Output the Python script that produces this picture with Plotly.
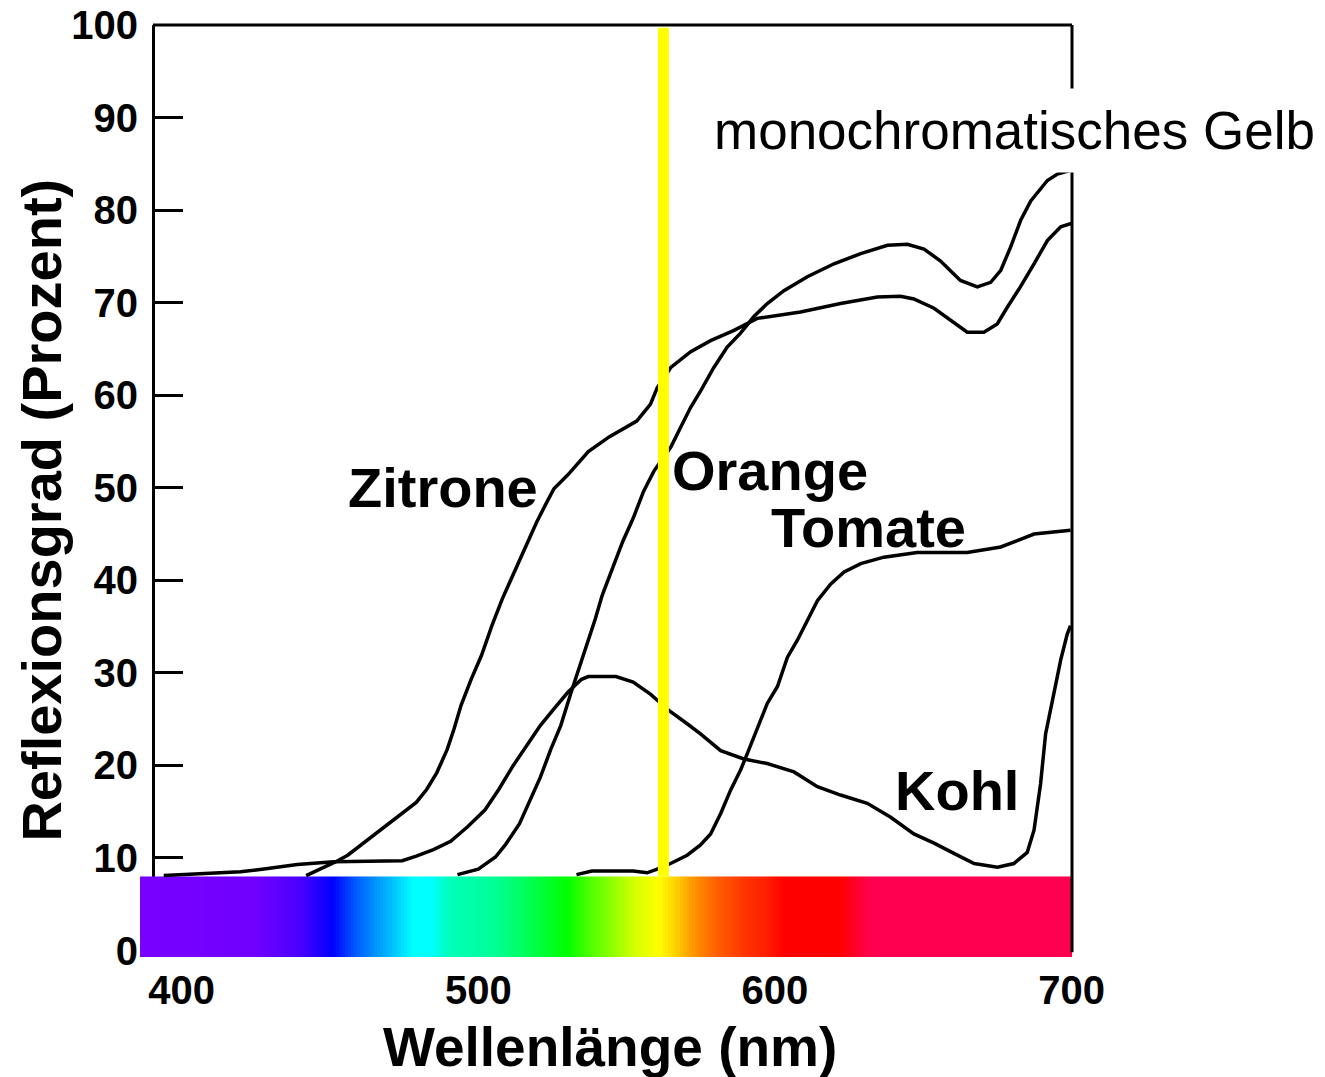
import plotly.graph_objects as go

# ---------------- data ----------------
zitrone_nm = [442, 447, 452, 456, 460.5, 467.5, 474.4, 479.1, 482.6, 486.0, 489.5, 491.8, 494.2, 497.6,
              501.1, 504.6, 508.1, 511.6, 515.1, 519.7, 523.2, 525.5, 530.2, 537.1, 544.1, 553.4, 558.0,
              560.3, 564.9, 571.6, 578.3, 586.2, 594.0, 608.6, 622.1, 634.5, 642.3, 646.8, 653.6, 660.3,
              664.8, 670.4, 674.9, 678.3, 682.7, 687.3, 691.8, 696.3, 700.2]
zitrone_r = [8.1, 8.8, 9.6, 10.3, 11.4, 13.1, 14.9, 16.0, 17.4, 19.2, 21.7, 23.9, 26.5, 29.3,
             31.9, 35.1, 38.0, 40.5, 43.1, 46.3, 48.5, 49.9, 51.4, 53.9, 55.5, 57.2, 59.0,
             60.8, 63.0, 64.7, 65.9, 67.0, 68.3, 69.0, 69.9, 70.6, 70.7, 70.4, 69.4, 67.9,
             66.8, 66.8, 67.7, 69.5, 71.7, 74.2, 76.7, 78.2, 78.6]

orange_nm = [493.0, 500.0, 505.8, 509.3, 513.9, 517.4, 520.9, 524.4, 527.8, 531.3, 533.6, 536.0, 539.4,
             541.8, 545.3, 548.7, 552.2, 555.7, 559.2, 564.9, 568.3, 571.6, 575.0, 579.4, 583.9, 588.4,
             592.9, 597.4, 603.0, 610.9, 619.9, 628.9, 637.9, 644.6, 650.2, 655.8, 662.5, 668.2, 672.7,
             676.1, 679.4, 682.8, 686.2, 691.8, 695.2, 699.6]
orange_r = [8.2, 8.8, 10.1, 11.5, 13.7, 16.2, 18.7, 21.7, 24.3, 27.9, 30.1, 32.6, 35.8,
            38.4, 41.3, 44.2, 46.7, 49.6, 51.8, 54.4, 56.6, 58.7, 60.5, 63.0, 65.2, 66.7,
            68.5, 69.9, 71.3, 72.8, 74.2, 75.3, 76.2, 76.3, 75.8, 74.5, 72.4, 71.7, 72.2,
            73.5, 76.0, 78.9, 81.0, 83.2, 83.9, 84.3]

tomate_nm = [533.1, 538.3, 552.2, 556.9, 560.3, 564.8, 570.4, 574.9, 578.3, 581.7, 585.0, 588.4, 590.7,
             594.1, 597.4, 600.8, 604.2, 607.5, 610.9, 614.3, 618.8, 623.3, 628.9, 636.7, 647.9, 664.8,
             676.1, 687.3, 699.6]
tomate_r = [8.2, 8.6, 8.6, 8.4, 8.8, 9.4, 10.3, 11.4, 12.6, 14.8, 17.3, 19.5, 21.3,
            24.1, 26.7, 28.5, 31.7, 33.5, 35.7, 37.8, 39.6, 40.9, 41.8, 42.5, 43.0, 43.0,
            43.6, 45.0, 45.4]

kohl_nm = [394.0, 408.7, 419.9, 427.8, 439.0, 451.3, 474.4, 479.1, 484.9, 490.7, 496.5, 502.3, 506.9,
           511.6, 516.2, 520.9, 525.5, 530.2, 534.8, 537.1, 546.4, 552.2, 558.0, 564.8, 570.4, 574.9,
           581.7, 589.5, 597.4, 606.4, 614.3, 622.1, 631.1, 639.0, 646.8, 653.6, 660.3, 667.1, 675.0,
           680.5, 685.0, 687.3, 689.5, 691.2, 693.5, 696.3, 698.5, 699.6]
kohl_r = [8.1, 8.3, 8.5, 8.8, 9.3, 9.6, 9.7, 10.2, 10.9, 11.8, 13.4, 15.2, 17.4,
          19.9, 22.1, 24.3, 26.1, 27.9, 29.3, 29.6, 29.6, 29.0, 27.7, 25.8, 24.5, 23.4,
          21.6, 20.7, 20.2, 19.3, 17.7, 16.8, 15.9, 14.4, 12.6, 11.6, 10.5, 9.4, 9.0,
          9.4, 10.6, 13.0, 18.0, 23.4, 27.0, 31.4, 34.2, 35.1]

gelb_nm = 562.4                      # monochromatic yellow
gelb_r = [8, 99.7]

# spectrum strip (wavelength -> colour)
spektrum_stops_nm = [386, 425, 440, 451, 459, 470, 478, 484, 490, 505, 515, 530, 538, 546, 553,
                     561, 567, 572, 580, 590, 597, 603, 622, 632, 700]
spektrum_colors = ['#7800FF', '#7000FF', '#4A00FF', '#0000FF', '#0060FF', '#00B8FF', '#00FFFF',
                   '#00FFFF', '#00FFB8', '#00FF98', '#00FF60', '#00FF00', '#50FF00', '#99FF00',
                   '#D8FF00', '#FFFF00', '#FFCC00', '#FF9900', '#FF6000', '#FF3300', '#FF2000',
                   '#FF0000', '#FF0000', '#FF0050', '#FF0050']
spektrum_edges = list(range(386, 701))
spektrum_centers = [e + 0.5 for e in spektrum_edges[:-1]]
strip_r = [-0.7, 8.0]

y_ticks = list(range(0, 101, 10))
x_ticks = [400, 500, 600, 700]

# ---------------- figure ----------------
fig = go.Figure()

lo, hi = spektrum_stops_nm[0], spektrum_stops_nm[-1]
cscale = [[(n - lo) / (hi - lo), c] for n, c in zip(spektrum_stops_nm, spektrum_colors)]
fig.add_trace(go.Heatmap(x=spektrum_edges, y=strip_r, z=[spektrum_centers], colorscale=cscale,
                         zmin=lo, zmax=hi, showscale=False, hoverinfo='skip', zsmooth=False))

line_style = dict(color='black', width=3.5)
for name, xs, ys in [('Zitrone', zitrone_nm, zitrone_r), ('Orange', orange_nm, orange_r),
                     ('Tomate', tomate_nm, tomate_r), ('Kohl', kohl_nm, kohl_r)]:
    fig.add_trace(go.Scatter(x=xs, y=ys, mode='lines', line=line_style, name=name, showlegend=False))

fig.add_trace(go.Scatter(x=[gelb_nm, gelb_nm], y=gelb_r, mode='lines',
                         line=dict(color='#FFFF00', width=11), showlegend=False, hoverinfo='skip'))

bold_font = dict(family='Liberation Sans, Arial, sans-serif', color='black', weight='bold')

fig.update_layout(
    width=1325, height=1077,
    margin=dict(l=140, r=253, t=25, b=120, autoexpand=False),
    paper_bgcolor='white', plot_bgcolor='white',
    showlegend=False,
    xaxis=dict(range=[386.0, 700.1], showgrid=False, zeroline=False, showline=False, automargin=False,
               ticks='', tickvals=x_ticks, ticktext=[str(v) for v in x_ticks],
               tickfont=dict(size=40, **bold_font), ticklabelstandoff=6, ticklabeloverflow='allow'),
    yaxis=dict(range=[-0.7, 100], anchor='free', position=13 / 932, showgrid=False, zeroline=False,
               automargin=False, ticklabeloverflow='allow',
               showline=True, linecolor='black', linewidth=3, layer='below traces',
               ticks='inside', ticklen=28, tickwidth=3, tickcolor='black',
               tickvals=y_ticks, ticktext=[str(v) for v in y_ticks],
               tickfont=dict(size=40, **bold_font), ticklabelstandoff=6),
)

# frame: top and right lines
fig.add_shape(type='line', xref='paper', yref='paper', x0=13 / 932, x1=1, y0=1, y1=1,
              line=dict(color='black', width=3))
fig.add_shape(type='line', xref='paper', yref='paper', x0=1, x1=1, y0=0.005, y1=1,
              line=dict(color='black', width=3))

label_font = dict(size=56, **bold_font)
for txt, x, y in [('Zitrone', 488.0, 50.0), ('Orange', 598.2, 51.9),
                  ('Tomate', 631.6, 45.7), ('Kohl', 661.2, 17.3)]:
    fig.add_annotation(x=x, y=y, xref='x', yref='y', text=txt, showarrow=False,
                       font=label_font, xanchor='center', yanchor='middle')

fig.add_annotation(x=575, y=88.6, xref='x', yref='y', text='monochromatisches Gelb',
                   showarrow=False, xanchor='left', yanchor='middle', bgcolor='white', borderpad=12,
                   font=dict(family='Liberation Sans, Arial, sans-serif', size=53, color='black'))

fig.add_annotation(x=-98 / 932, y=0.479, xref='paper', yref='paper', text='Reflexionsgrad (Prozent)',
                   showarrow=False, textangle=-90, xanchor='center', yanchor='middle',
                   font=dict(size=56, **bold_font))
fig.add_annotation(x=470 / 932, y=-0.097, xref='paper', yref='paper', text='Wellenlänge (nm)',
                   showarrow=False, xanchor='center', yanchor='middle',
                   font=dict(size=55, **bold_font))

# remove the default page margin so the figure starts at the window's top-left corner
fig.write_html('out.html', config={'displayModeBar': False},
               post_script="document.body.style.margin='0';")
